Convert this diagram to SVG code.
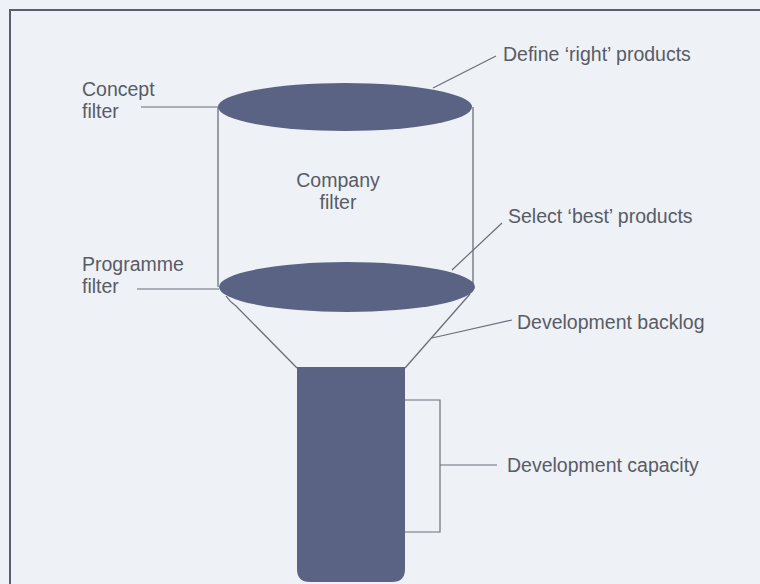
<svg xmlns="http://www.w3.org/2000/svg" width="760" height="584" viewBox="0 0 760 584">
  <style>
    .bg { fill: #eef1f5; }
    .frame { stroke: #5a5f70; stroke-width: 2; fill: none; }
    .disc { fill: #5a6383; }
    .wall { stroke: #6b6f7a; stroke-width: 1.3; fill: none; }
    .lead { stroke: #6b6f7a; stroke-width: 1.2; fill: none; }
    .lbl { font-family: "Liberation Sans", Arial, sans-serif; font-size: 19.5px; fill: #585c66; }
  </style>

  <rect class="bg" x="0" y="0" width="760" height="584"/>
  <path class="frame" d="M10,584 V10 H760"/>

  <!-- Funnel body -->
  <g id="company-filter">
    <line class="wall" x1="218" y1="107" x2="218" y2="287"/>
    <line class="wall" x1="473" y1="107" x2="473" y2="287"/>
    <text class="lbl" x="338" y="187" text-anchor="middle">Company</text>
    <text class="lbl" x="338" y="209" text-anchor="middle">filter</text>
  </g>

  <g id="concept-filter">
    <ellipse class="disc" cx="345" cy="107" rx="127" ry="24"/>
    <text class="lbl" x="82" y="96">Concept</text>
    <text class="lbl" x="82" y="118">filter</text>
  </g>

  <g id="backlog">
    <path class="wall" d="M226,296 Q230,302 236,306 L297,368"/>
    <path class="wall" d="M470,294 L405,368"/>
  </g>

  <g id="programme-filter">
    <ellipse class="disc" cx="347" cy="287" rx="128" ry="25"/>
    <text class="lbl" x="82" y="271">Programme</text>
    <text class="lbl" x="82" y="293">filter</text>
  </g>

  <g id="capacity">
    <path class="disc" d="M297,367 H405 V569 Q405,582 392,582 H310 Q297,582 297,569 Z"/>
  </g>

  <!-- Callout labels -->
  <g id="define-label">
    <text class="lbl" x="503" y="61">Define ‘right’ products</text>
  </g>
  <g id="select-label">
    <text class="lbl" x="508" y="223">Select ‘best’ products</text>
  </g>
  <g id="backlog-label">
    <text class="lbl" x="517" y="329">Development backlog</text>
  </g>
  <g id="capacity-label">
    <text class="lbl" x="507" y="472">Development capacity</text>
  </g>

  <!-- Leader lines -->
  <g id="connectors">
    <line class="lead" x1="141" y1="107" x2="218" y2="107"/>
    <line class="lead" x1="137" y1="289" x2="219" y2="289"/>
    <line class="lead" x1="433" y1="88" x2="496" y2="56"/>
    <line class="lead" x1="452" y1="270" x2="502" y2="223"/>
    <line class="lead" x1="432" y1="338" x2="512" y2="320"/>
    <polyline class="lead" points="405,400 440,400 440,532 405,532"/>
    <line class="lead" x1="440" y1="465" x2="497" y2="465"/>
  </g>
</svg>
